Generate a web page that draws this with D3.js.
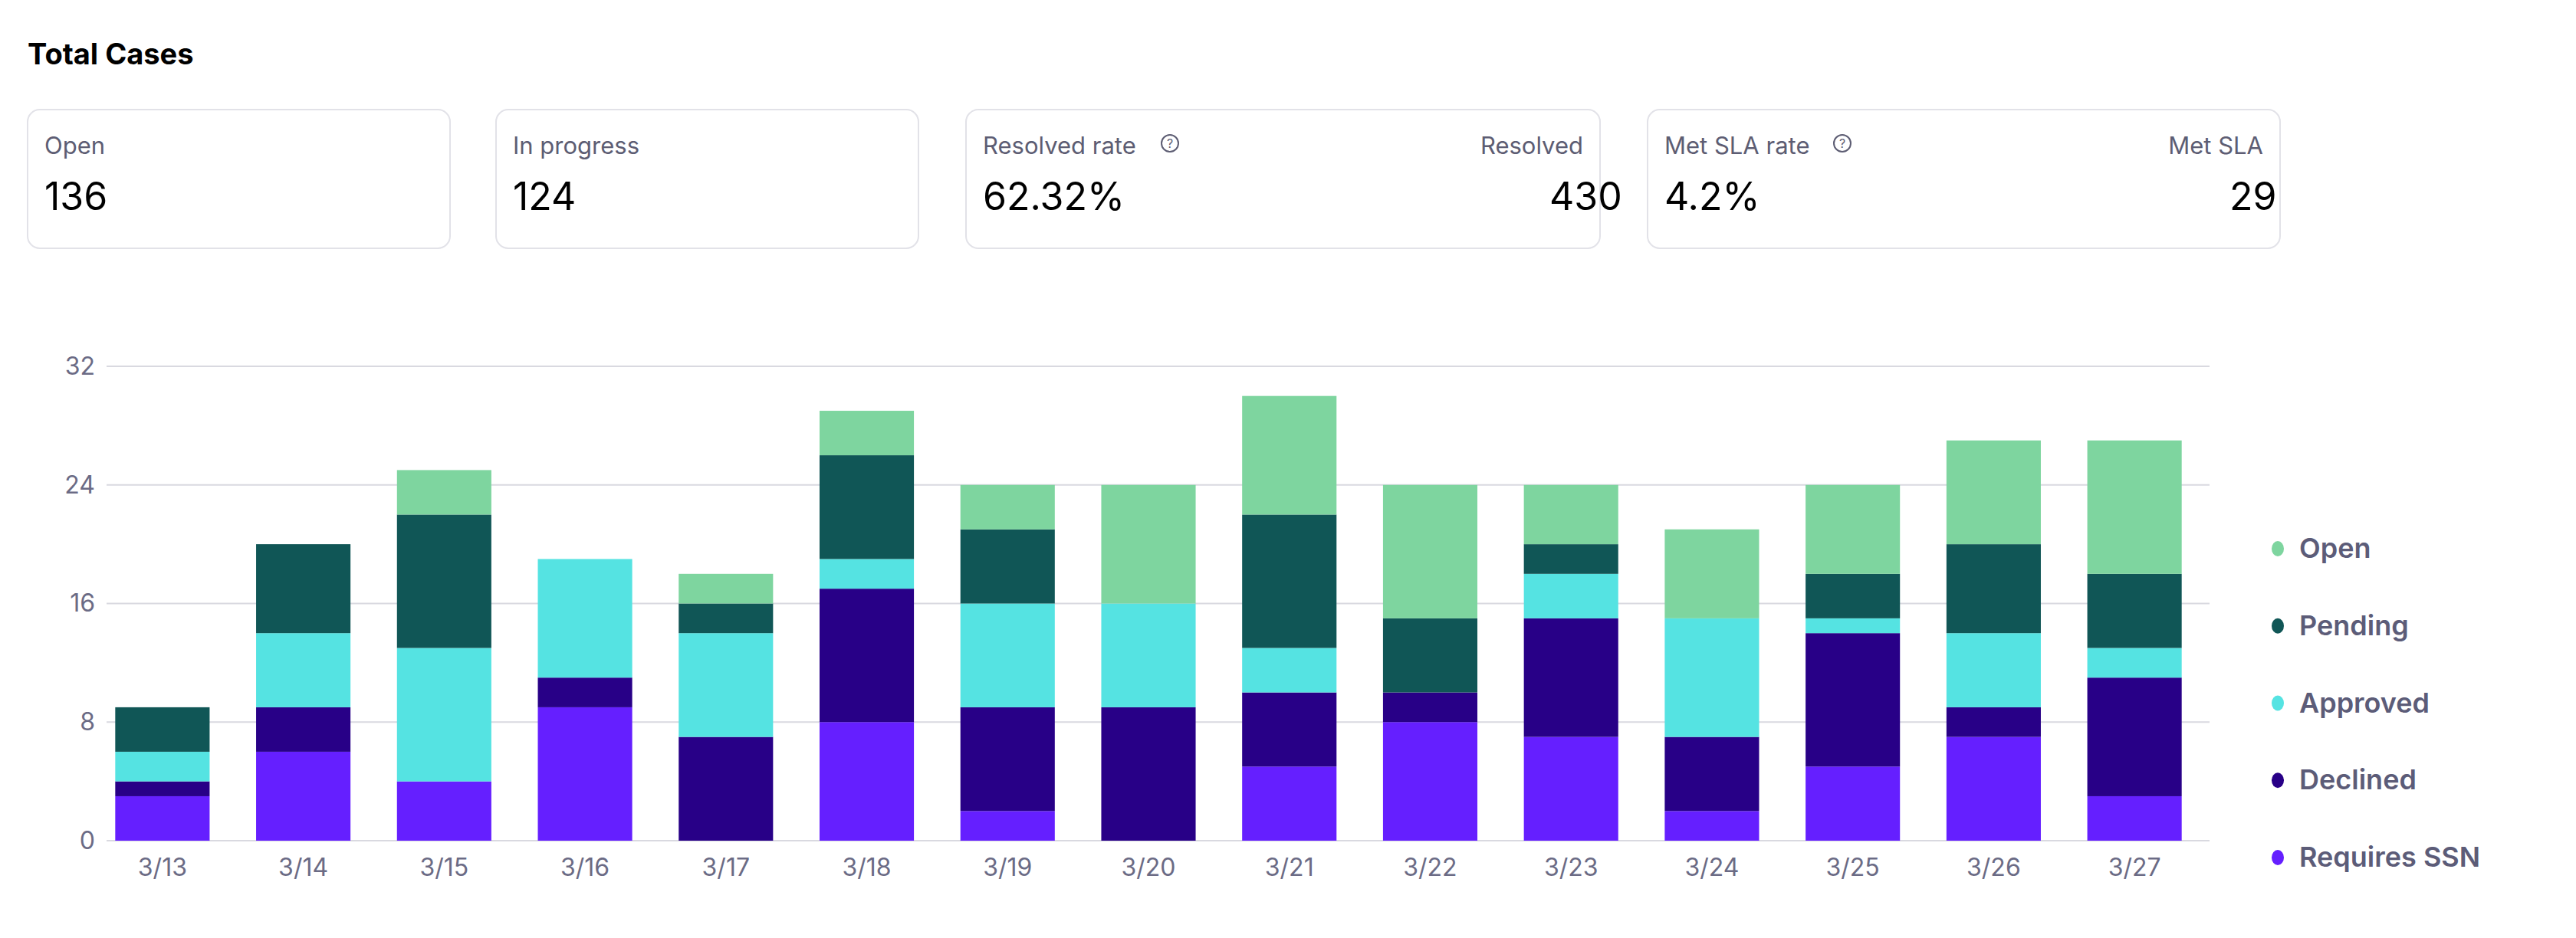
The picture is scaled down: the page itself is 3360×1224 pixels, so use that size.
<!DOCTYPE html>
<html>
<head>
<meta charset="utf-8">
<script src="https://cdn.jsdelivr.net/npm/d3@7"></script>
<style>
  body { margin: 0; background: #fff; font-family: Inter, "Noto Sans", sans-serif; }
  svg text { font-family: Inter, "Noto Sans", sans-serif; }
</style>
</head>
<body>
<svg id="chart" width="3360" height="1224"></svg>
<script>
const days = ['3/13','3/14','3/15','3/16','3/17','3/18','3/19','3/20','3/21','3/22','3/23','3/24','3/25','3/26','3/27'];
const requiresSsn = [3, 6, 4, 9, 0, 8, 2, 0, 5, 8, 7, 2, 5, 7, 3];
const declined    = [1, 3, 0, 2, 7, 9, 7, 9, 5, 2, 8, 5, 9, 2, 8];
const approved    = [2, 5, 9, 8, 7, 2, 7, 7, 3, 0, 3, 8, 1, 5, 2];
const pending     = [3, 6, 9, 0, 2, 7, 5, 0, 9, 5, 2, 0, 3, 6, 5];
const open        = [0, 0, 3, 0, 2, 3, 3, 8, 8, 9, 4, 6, 6, 7, 9];
const yTicks = [0, 8, 16, 24, 32];

const seriesNames = ['Requires SSN', 'Declined', 'Approved', 'Pending', 'Open'];
const seriesData = [requiresSsn, declined, approved, pending, open];
const colors = ['#651fff', '#280087', '#55e3e2', '#105656', '#7ed59f'];

const stats = [
  { x: 36,   w: 551, left: ['Open', '136'] },
  { x: 647,  w: 551, left: ['In progress', '124'] },
  { x: 1260, w: 827, left: ['Resolved rate', '62.32%'], help: true, right: ['Resolved', '430'] },
  { x: 2149, w: 825, left: ['Met SLA rate', '4.2%'], help: true, right: ['Met SLA', '29'] }
];

const svg = d3.select('#chart');

svg.append('text').attr('x', 36).attr('y', 84)
  .attr('font-size', 38).attr('font-weight', 700).attr('fill', '#000')
  .text('Total Cases');

// stat cards
const card = svg.selectAll('g.card').data(stats).enter().append('g')
  .attr('class', 'card').attr('transform', d => `translate(${d.x},143)`);
card.append('rect').attr('width', d => d.w).attr('height', 181)
  .attr('rx', 16).attr('fill', '#fff').attr('stroke', '#e2e2e8').attr('stroke-width', 2);
card.append('text').attr('x', 22).attr('y', 58).attr('font-size', 31).attr('fill', '#5d5d73')
  .text(d => d.left[0]);
card.append('text').attr('x', 22).attr('y', 131).attr('font-size', 50).attr('fill', '#000')
  .text(d => d.left[1]);
card.filter(d => d.right).append('text').attr('x', d => d.w - 22).attr('y', 58)
  .attr('text-anchor', 'end').attr('font-size', 31).attr('fill', '#5d5d73').text(d => d.right[0]);
card.filter(d => d.right).append('text').attr('x', d => d.w - 66).attr('y', 131)
  .attr('font-size', 50).attr('fill', '#000').text(d => d.right[1]);
const help = card.filter(d => d.help).append('g')
  .attr('transform', d => `translate(${d.left[0] === 'Resolved rate' ? 266 : 254},44)`);
help.append('circle').attr('r', 11).attr('fill', 'none').attr('stroke', '#5d5d73').attr('stroke-width', 2);
help.append('text').attr('y', 6).attr('text-anchor', 'middle').attr('font-size', 16)
  .attr('fill', '#5d5d73').text('?');

// chart
const x = d3.scaleBand().domain(days).range([120, 2876]).paddingInner(0.33).paddingOuter(0.165);
const y = d3.scaleLinear().domain([0, 32]).range([1097, 478]);

svg.append('g').selectAll('line').data(yTicks).enter().append('line')
  .attr('x1', 139).attr('x2', 2882).attr('y1', d => y(d)).attr('y2', d => y(d))
  .attr('stroke', '#d9d9e0').attr('stroke-width', 2);

const yAxis = svg.append('g').attr('transform', 'translate(124,0)')
  .call(d3.axisLeft(y).tickValues(yTicks).tickSize(0).tickPadding(0));
yAxis.select('.domain').remove();
yAxis.selectAll('text').attr('font-size', 32).attr('fill', '#6b6b85').attr('font-family', 'Inter');

const xAxis = svg.append('g').attr('transform', 'translate(0,1110)')
  .call(d3.axisBottom(x).tickSize(0).tickPadding(10));
xAxis.select('.domain').remove();
xAxis.selectAll('text').attr('font-size', 32).attr('fill', '#6b6b85').attr('font-family', 'Inter');

const rows = days.map((d, i) => {
  const r = { day: d };
  seriesNames.forEach((s, k) => r[s] = seriesData[k][i]);
  return r;
});
const stacked = d3.stack().keys(seriesNames)(rows);

svg.append('g').selectAll('g').data(stacked).enter().append('g')
  .attr('fill', (d, i) => colors[i])
  .selectAll('rect').data(d => d).enter().append('rect')
  .attr('x', d => x(d.data.day)).attr('width', x.bandwidth())
  .attr('y', d => y(d[1])).attr('height', d => y(d[0]) - y(d[1]));

// legend (top to bottom: Open ... Requires SSN)
const legendItems = seriesNames.map((s, i) => ({ name: s, color: colors[i] })).reverse();
const legendY = d3.scalePoint().domain(legendItems.map(d => d.name)).range([716, 1119]);
const lg = svg.append('g').selectAll('g').data(legendItems).enter().append('g')
  .attr('transform', d => `translate(2971,${legendY(d.name)})`);
lg.append('ellipse').attr('rx', 8).attr('ry', 10).attr('fill', d => d.color);
lg.append('text').attr('x', 28).attr('y', 12).attr('font-size', 36).attr('font-weight', 600)
  .attr('fill', '#5c5c78').text(d => d.name);
</script>
</body>
</html>
